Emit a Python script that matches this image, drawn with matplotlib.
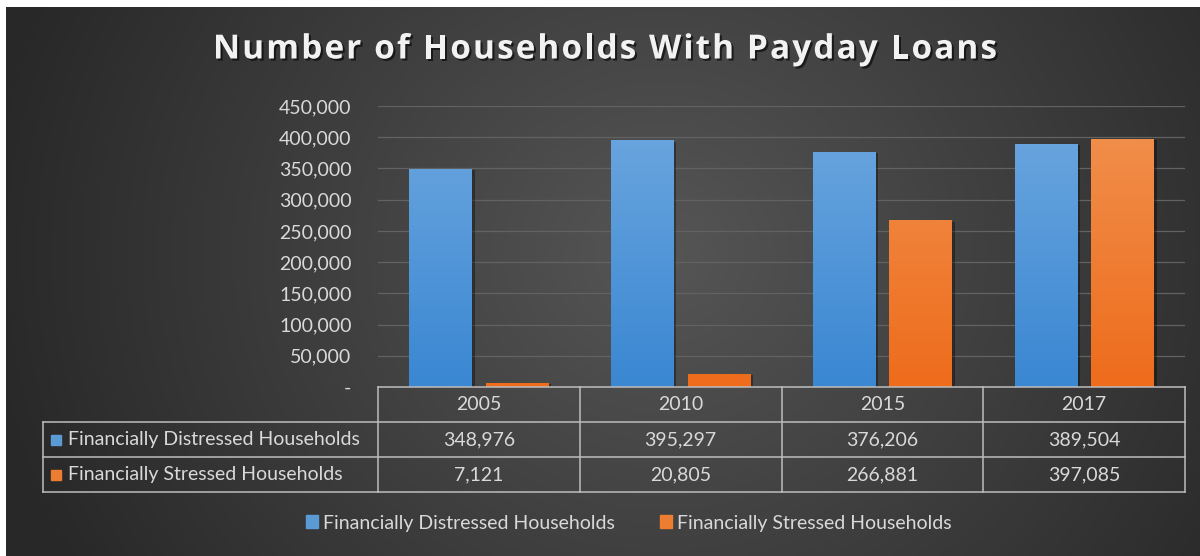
import matplotlib
matplotlib.use('Agg')
import matplotlib.pyplot as plt
import matplotlib.patheffects as pe
from matplotlib.patches import Rectangle
from matplotlib.colors import LinearSegmentedColormap
from matplotlib.font_manager import FontProperties
import numpy as np

# data
years = ['2005', '2010', '2015', '2017']
distressed = [348976, 395297, 376206, 389504]
stressed = [7121, 20805, 266881, 397085]
series_names = ['Financially Distressed Households', 'Financially Stressed Households']
yticks = [0, 50000, 100000, 150000, 200000, 250000, 300000, 350000, 400000, 450000]
title = 'Number of Households With Payday Loans'

W, H = 1200, 556
txt = '#d9d9d9'
blue = '#5b9bd5'
orange = '#ed7d31'
font = 'Lato'
fs = 14

fig = plt.figure(figsize=(12, 5.56), dpi=100)
fig.patch.set_facecolor('white')

# background with radial shading
bg = fig.add_axes([6 / W, 0, (W - 6) / W, (H - 7) / H])
yy, xx = np.mgrid[0:1:200j, 0:1:400j]
r = np.sqrt(((xx - 0.55) / 0.55) ** 2 + ((yy - 0.55) / 1.1) ** 2)
g = np.clip(0.335 - 0.17 * r, 0.16, 0.335)
bg.imshow(np.dstack([g, g, g]), extent=[0, 1, 0, 1], aspect='auto', origin='lower')
bg.set_axis_off()

# main axes
ax = fig.add_axes([378 / W, 1 - 387 / H, (1185 - 378) / W, (387 - 106) / H])
ax.patch.set_alpha(0)
x = np.arange(len(years))
bw = 0.31
off = 0.19

grad_blue = LinearSegmentedColormap.from_list('b', ['#3a87d2', '#6ea8e0'])
grad_orange = LinearSegmentedColormap.from_list('o', ['#ee6c1c', '#f1924f'])

for vals, dx, base, cm in [(distressed, -off, blue, grad_blue),
                           (stressed, off, orange, grad_orange)]:
    bars = ax.bar(x + dx, vals, bw, color=base, zorder=3)
    for b in bars:
        b.set_path_effects([pe.SimplePatchShadow(offset=(2, -1), shadow_rgbFace='black', alpha=0.35),
                            pe.Normal()])
        x0 = b.get_x()
        img = ax.imshow(np.linspace(0, 1, 100).reshape(-1, 1), cmap=cm, origin='lower',
                        extent=[x0, x0 + b.get_width(), 0, 450000], aspect='auto', zorder=4)
        img.set_clip_path(b)

ax.set_xlim(-0.5, 3.5)
ax.set_ylim(0, 450000)
ax.set_yticks(yticks)
ax.set_yticklabels(['-' if v == 0 else f'{v:,}' for v in yticks])
ax.tick_params(axis='y', length=0, pad=19, labelcolor=txt, labelsize=fs)
for lab in ax.get_yticklabels():
    lab.set_family(font)
ax.set_xticks([])
ax.grid(axis='y', color='#626262', lw=0.9, zorder=0)
for s in ax.spines.values():
    s.set_visible(False)

# data table under the axes
tr = ax.get_xaxis_transform()
ph = 387 - 106
rows = [0, -35 / ph, -70 / ph, -105 / ph]
left = -0.5 - (378 - 43) * 4 / (1185 - 378)
lc = '#bdbdbd'
kw = dict(transform=tr, color=lc, lw=1.1, clip_on=False, zorder=5)
ax.plot([-0.5, 3.5], [rows[0]] * 2, **kw)
for yv in rows[1:]:
    ax.plot([left, 3.5], [yv] * 2, **kw)
ax.plot([left, left], [rows[1], rows[3]], **kw)
for xv in np.arange(-0.5, 4, 1):
    ax.plot([xv, xv], [rows[0], rows[3]], **kw)

def mid(a, b):
    return (a + b) / 2

for i, yr in enumerate(years):
    ax.text(i, mid(rows[0], rows[1]), yr, transform=tr, ha='center', va='center',
            color=txt, fontsize=fs, family=font)
    ax.text(i, mid(rows[1], rows[2]), f'{distressed[i]:,}', transform=tr, ha='center',
            va='center', color=txt, fontsize=fs, family=font)
    ax.text(i, mid(rows[2], rows[3]), f'{stressed[i]:,}', transform=tr, ha='center',
            va='center', color=txt, fontsize=fs, family=font)

for k, (name, c) in enumerate(zip(series_names, [blue, orange])):
    yc = mid(rows[k + 1], rows[k + 2])
    ax.add_patch(Rectangle((left + 0.04, yc - 5 / ph), 0.05, 10 / ph, transform=tr,
                           color=c, clip_on=False, zorder=5))
    ax.text(left + 0.125, yc, name, transform=tr, ha='left', va='center',
            color=txt, fontsize=fs, family=font)

# title, letter-spaced by placing each character
renderer = fig.canvas.get_renderer()
tprop = FontProperties(family='Open Sans', weight='bold', size=24)

def tw(s):
    return renderer.get_text_width_height_descent(s, tprop, ismath=False)[0]

base = tw('|')
pos = [tw(title[:k] + '|') - base if k else 0 for k in range(len(title))]
natural = tw(title)
target = 997 - 213
extra = (target - natural) / (len(title) - 1)
for k, ch in enumerate(title):
    if ch == ' ':
        continue
    fig.text((213 + pos[k] + k * extra) / W, 1 - 50 / H, ch, ha='left', va='center',
             color='#f2f2f2', fontproperties=tprop,
             path_effects=[pe.withSimplePatchShadow(offset=(1.5, -1.5), shadow_rgbFace='black', alpha=0.6)])

# legend
handles = [Rectangle((0, 0), 1, 1, color=c) for c in [blue, orange]]
leg = fig.legend(handles, series_names, loc='center', bbox_to_anchor=(629 / W, 1 - 523 / H),
                 ncol=2, frameon=False, handlelength=0.6, handleheight=0.6, handletextpad=0.3,
                 columnspacing=2.3, prop={'family': font, 'size': fs})
for t in leg.get_texts():
    t.set_color(txt)

fig.savefig('out.png', dpi=100)
